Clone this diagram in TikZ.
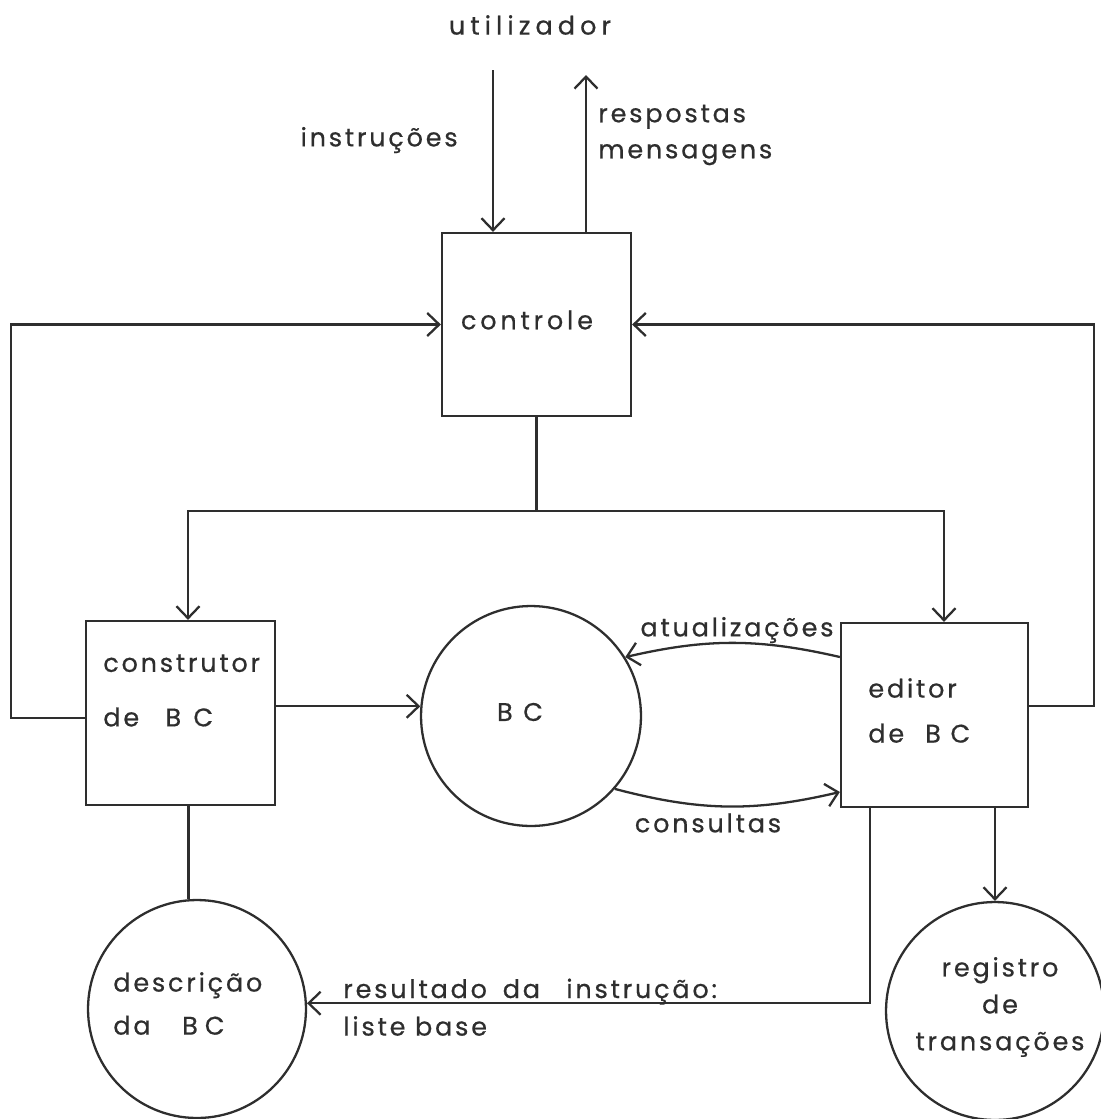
\documentclass[tikz,border=0pt]{standalone}
\usepackage{fontspec}
\setmainfont{Poppins}[LetterSpace=11, FakeBold=0.6]
\usetikzlibrary{arrows.meta}
\definecolor{ink}{HTML}{2E2E2E}
\tikzset{
  lbl/.style={font=\fontsize{14.5}{16}\selectfont, text=ink, inner sep=0pt},
  block/.style={draw=ink, line width=1.3pt, minimum width=3.78cm, minimum height=3.68cm, inner sep=0pt},
  store/.style={draw=ink, line width=1.3pt, circle, inner sep=0pt},
  link/.style={draw=ink, line width=1.3pt},
  flow/.style={link, -{Straight Barb[length=2.4mm,width=4.6mm]}},
}
\begin{document}
\begin{tikzpicture}[x=0.02cm, y=-0.02cm]
\useasboundingbox (0,0) rectangle (1101,1119);

% processes
\node[block, minimum height=3.66cm] (ctrl) at (536.5,324.5) {};
\node[block] (constr) at (180.5,713) {};
\node[block, minimum width=3.74cm] (editor) at (934.5,715) {};

% stores
\node[store, minimum size=4.4cm] (bc) at (531,716) {};
\node[store, minimum size=4.36cm] (desc) at (197,1009) {};
\node[store, minimum size=4.36cm] (reg) at (995,1011) {};

% texts
\node[lbl] (user) at (530,25) {\addfontfeature{LetterSpace=20}utilizador};
\node[lbl, anchor=east] (instr) at (458,140) {instruções};
\node[lbl, anchor=west, align=left] (resp) at (598,135) {respostas\\[4.5pt]mensagens};
\node[lbl] (ctrl-t) at (527,320) {\addfontfeature{LetterSpace=15}controle};
\node[lbl, anchor=west, align=left] (constr-t) at (103,690.5) {construtor\\[15pt]de\hspace{15pt}B\kern7pt C};
\node[lbl, anchor=west, align=left] (editor-t) at (868,710.5) {editor\\[9.6pt]de\hspace{12pt}B\kern5.5pt C};
\node[lbl] (bc-t) at (520,712) {B\kern6pt C};
\node[lbl, anchor=west, align=left] (desc-t) at (113,1003.5) {descrição\\[8.5pt]da\hspace{18pt}B\kern4pt C};
\node[lbl, align=center] (reg-t) at (1000,1007) {registro\\[5pt]de\\[5pt]transações};
\node[lbl] (upd-t) at (737,630) {atualizações};
\node[lbl] (qry-t) at (708,823) {consultas};
\node[lbl, anchor=base west] (res-t) at (343,998) {resultado\hspace{9pt}da\hspace{15pt}instrução:};
\node[lbl, anchor=west] (lst-t) at (343,1026) {liste base};

% user interface
\coordinate (uin) at (493,70);
\coordinate (uout) at (586,75);
\draw[flow] (uin) -- (uin |- ctrl.north);
\draw[flow] (uout |- ctrl.north) -- (uout);

% feedback loops into controle
\draw[flow] ([yshift=-0.1cm]constr.west) -- ++(-74,0) |- (ctrl.west);
\draw[flow] ([yshift=0.18cm]editor.east) -- ++(65,0) |- (ctrl.east);

% controle dispatch
\draw[link] (ctrl.south) -- ++(0,94) coordinate (split);
\draw[flow] (split) -| ([xshift=0.15cm]constr.north);
\draw[flow] (split) -| ([xshift=0.19cm]editor.north);

% knowledge base traffic
\draw[flow] (constr.east |- bc.175) -- (bc.175);
\draw[flow] ([yshift=1.16cm]editor.west) to[bend right=13] (bc.32);
\draw[flow] (bc.-41) to[bend right=14] ([yshift=-1.54cm]editor.west);

% lower stores
\coordinate (cs) at ([xshift=0.16cm]constr.south);
\draw[link] (cs) -- (cs |- desc.north);
\draw[flow] ([xshift=-1.29cm]editor.south) |- (desc.3);
\draw[flow] (editor.south -| reg.north) -- (reg.north);
\end{tikzpicture}
\end{document}
